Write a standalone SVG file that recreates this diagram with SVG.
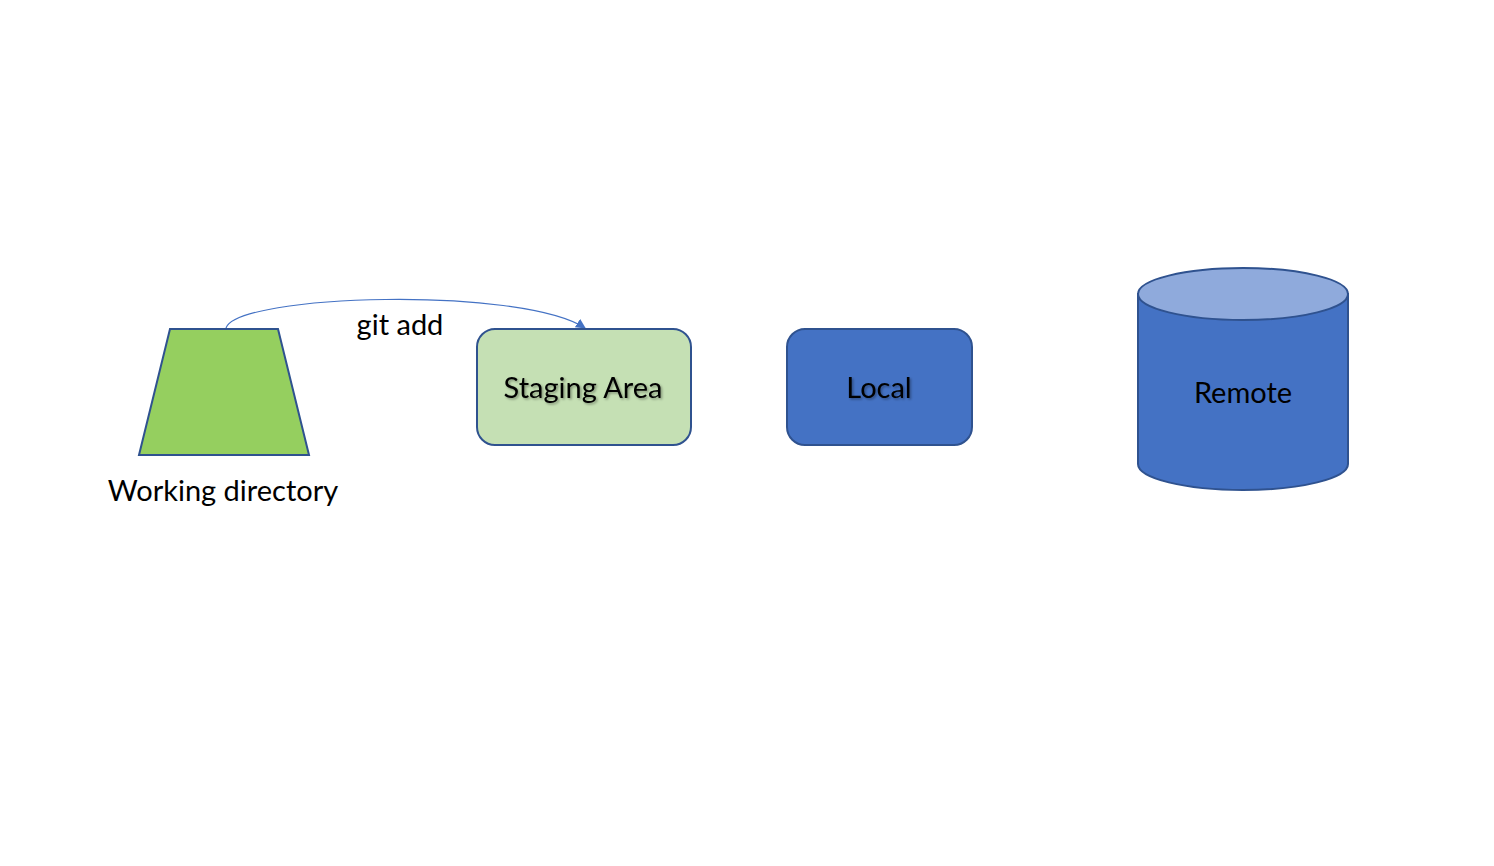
<svg xmlns="http://www.w3.org/2000/svg" width="1494" height="866" viewBox="0 0 1494 866">
<style>
.lbl{font-family:Lato,"Open Sans","Liberation Sans",sans-serif;font-size:29px;fill:#000;text-anchor:middle}
.edge{stroke:#4472C4;stroke-width:1.2;fill:none}
.box{stroke:#2F528F;stroke-width:2}
</style>
<defs>
<marker id="arr" viewBox="0 0 10 10" refX="9" refY="5" markerWidth="10" markerHeight="10" orient="auto" markerUnits="userSpaceOnUse">
<path d="M0,0 L10,5 L0,10 z" fill="#4472C4"/>
</marker>
<filter id="sh" x="-10%" y="-20%" width="120%" height="140%">
<feDropShadow dx="1.5" dy="1.5" stdDeviation="1" flood-color="#000" flood-opacity="0.35"/>
</filter>
</defs>
<rect width="1494" height="866" fill="#fff"/>
<g id="connectors">
<path class="edge" d="M226,328 C238,294 520,286 585,328" marker-end="url(#arr)"/>
<text class="lbl" x="400" y="335">git add</text>
</g>
<g id="working-directory">
<polygon class="box" points="170,329 278,329 309,455 139,455" fill="#95CF5F"/>
<text class="lbl" x="223" y="501">Working directory</text>
</g>
<g id="staging-area">
<rect class="box" x="477" y="329" width="214" height="116" rx="18" fill="#C5E0B4"/>
<text class="lbl" x="583" y="398" filter="url(#sh)">Staging Area</text>
</g>
<g id="local">
<rect class="box" x="787" y="329" width="185" height="116" rx="18" fill="#4472C4"/>
<text class="lbl" x="879" y="398" filter="url(#sh)">Local</text>
</g>
<g id="remote">
<path class="box" d="M1138,294 L1138,464 A105,26 0 0 0 1348,464 L1348,294 Z" fill="#4472C4"/>
<ellipse class="box" cx="1243" cy="294" rx="105" ry="26" fill="#8FAADC"/>
<text class="lbl" x="1243" y="403">Remote</text>
</g>
</svg>
